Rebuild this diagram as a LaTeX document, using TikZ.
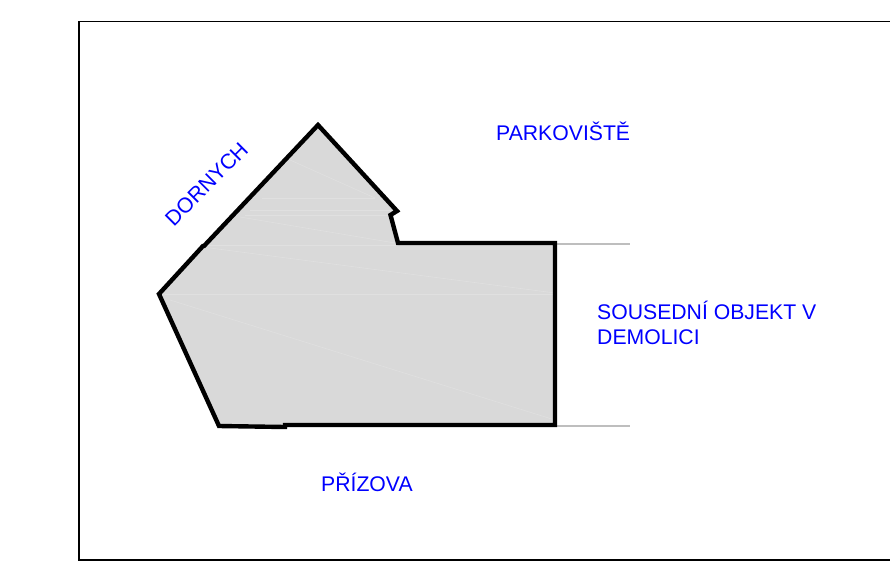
\documentclass[tikz,border=0pt]{standalone}
\usepackage{fontspec}
\setmainfont{Liberation Sans}
\definecolor{lbl}{RGB}{0,0,255}
\definecolor{fillg}{RGB}{217,217,217}
\definecolor{streak}{RGB}{224,224,224}
\definecolor{ext}{RGB}{190,190,190}
\tikzset{
  lab/.style={text=lbl,font=\fontsize{21.2}{25}\selectfont,inner sep=0pt,align=left},
  outline/.style={line width=4.4pt,line join=miter,miter limit=3,draw=black},
  frameline/.style={line width=1.8pt,draw=black},
  extline/.style={line width=2pt,draw=ext},
  streakline/.style={line width=0.6pt,draw=streak}
}
\begin{document}
\begin{tikzpicture}[x=1pt,y=-1pt]
\useasboundingbox (0,0) rectangle (890,564);
\draw[frameline] (890,21.5) -- (79,21.5) -- (79,560) -- (890,560);
% building
\fill[fillg] (318,125) -- (397,211) -- (390.5,215) -- (398,243) -- (555,243) -- (555,425) -- (285,425) -- (285,427) -- (219,426) -- (159,294) -- (203,246) -- (204,246) -- cycle;
% streaks
\draw[streakline] (262,198) -- (375,198);
\draw[streakline] (250,210) -- (392,210);
\draw[streakline] (245,215) -- (392,215);
\draw[streakline] (205,245) -- (398,245);
\draw[streakline] (210,248) -- (555,293);
\draw[streakline] (240,217) -- (395,243);
\draw[streakline] (290,160) -- (375,198);
\draw[streakline] (165,294) -- (555,294);
\draw[streakline] (170,300) -- (555,420);
\draw[extline] (555,243.5) -- (630,243.5);
\draw[extline] (555,425.5) -- (630,425.5);
\draw[outline] (318,125) -- (397,211) -- (390.5,215) -- (398,243) -- (555,243) -- (555,425) -- (285,425) -- (285,427) -- (219,426) -- (159,294) -- (203,246) -- (204,246) -- cycle;
\node[lab,anchor=west] (park) at (496,131) {PARKOVIŠTĚ};
\node[lab,anchor=west] (sous) at (597,323) {SOUSEDNÍ OBJEKT V\\DEMOLICI};
\node[lab,anchor=west] (priz) at (321,482.5) {PŘÍZOVA};
\node[lab,rotate=45] (dorn) at (206.5,184) {DORNYCH};
\end{tikzpicture}
\end{document}
